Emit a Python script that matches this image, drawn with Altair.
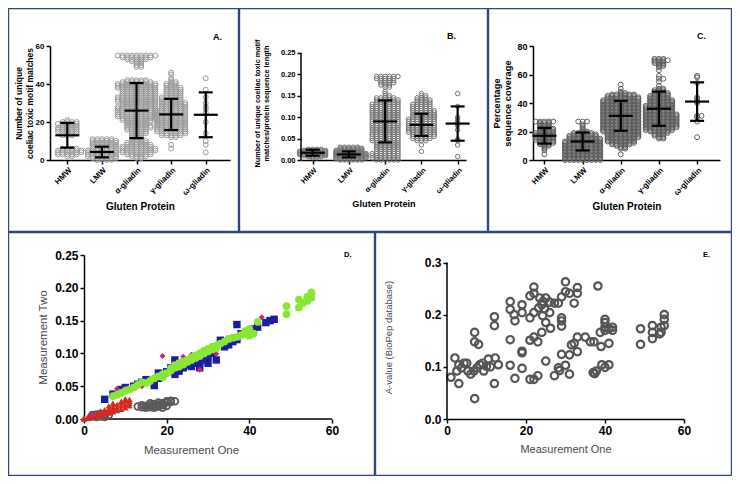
import json
import altair as alt
import pandas as pd

FONT = "Liberation Sans"
BORDER = "#2b4585"
CATS = ["HMW", "LMW", "α-gliadin", "γ-gliadin", "ω-gliadin"]

# ---------------- Panel A: unique coeliac toxic motif matches (value, count)
A_HMW_V = [2, 3, 4, 5, 6, 13, 14, 15, 16, 17, 18, 19, 20, 21]
A_HMW_N = [2, 5, 6, 6, 4, 3, 4, 5, 5, 5, 4, 5, 4, 1]
A_LMW_V = [0, 1, 2, 3, 4, 5, 6, 7, 8, 9, 10, 11]
A_LMW_N = [4, 6, 7, 7, 7, 7, 6, 6, 6, 6, 6, 5]
A_ALPHA_V = [1, 2, 3, 4, 5, 6, 7, 8, 9, 10, 11, 12, 13, 14, 15, 16, 17, 18, 19, 20,
             21, 22, 23, 24, 25, 26, 27, 28, 29, 30, 31, 32, 33, 34, 35, 36, 37, 38, 39, 40,
             41, 42, 49, 50, 51, 52, 53, 54, 55]
A_ALPHA_N = [2, 4, 6, 7, 8, 8, 7, 6, 5, 4, 3, 3, 3, 4, 4, 5, 6, 6, 5, 6,
             7, 8, 9, 9, 9, 9, 9, 9, 8, 8, 9, 9, 9, 8, 8, 8, 8, 9, 9, 9,
             7, 5, 2, 2, 2, 3, 5, 7, 9]
A_GAMMA_V = [6, 8, 12, 13, 14, 15, 16, 17, 18, 19, 20, 21, 22, 23, 24, 25, 26, 27, 28, 29,
             30, 31, 32, 33, 34, 35, 36, 37, 38, 39, 40, 41, 42, 43, 45, 46]
A_GAMMA_N = [1, 1, 2, 5, 6, 7, 7, 7, 7, 7, 7, 7, 7, 7, 7, 7, 7, 6, 6, 6,
             6, 5, 5, 5, 4, 4, 4, 4, 4, 3, 3, 2, 1, 1, 1, 1]
A_OMEGA_V = [4, 8, 10, 14, 20, 25, 27, 28, 30, 33, 37, 43]
A_OMEGA_N = [1, 1, 1, 1, 1, 1, 1, 1, 1, 1, 1, 1]
A_MEAN = [13, 4.2, 26, 24, 23.8]
A_SD = [6.5, 2.8, 14.5, 8.2, 11.8]

# ---------------- Panel B: matches / protein sequence length
B_HMW_V = [0.005, 0.0075, 0.01, 0.0125, 0.015, 0.0175, 0.02, 0.0225, 0.025]
B_HMW_N = [2, 4, 6, 7, 7, 7, 7, 6, 4]
B_LMW_V = [0, 0.0025, 0.005, 0.0075, 0.01, 0.0125, 0.015, 0.0175, 0.02, 0.0225, 0.025, 0.0275, 0.03]
B_LMW_N = [6, 7, 8, 8, 8, 8, 8, 7, 7, 7, 6, 6, 5]
B_ALPHA_V = [0, 0.005, 0.01, 0.015, 0.02, 0.025, 0.03, 0.035, 0.04, 0.045, 0.05, 0.055, 0.06,
             0.065, 0.07, 0.075, 0.08, 0.085, 0.09, 0.095, 0.1, 0.105, 0.11, 0.115, 0.12,
             0.125, 0.13, 0.135, 0.14, 0.145, 0.15, 0.155, 0.16, 0.17, 0.175, 0.18, 0.185,
             0.19, 0.195]
B_ALPHA_N = [6, 7, 7, 7, 6, 6, 6, 6, 6, 7, 7, 7, 7, 7, 7, 7, 7, 7, 7, 7, 7, 7, 7, 7, 7,
             7, 7, 6, 6, 5, 2, 1, 1, 2, 3, 4, 4, 5, 6]
B_GAMMA_V = [0.02, 0.035, 0.045, 0.05, 0.055, 0.06, 0.065, 0.07, 0.075, 0.08, 0.085, 0.09,
             0.095, 0.1, 0.105, 0.11, 0.115, 0.12, 0.125, 0.13, 0.135, 0.14, 0.145, 0.15, 0.155]
B_GAMMA_N = [1, 1, 3, 5, 6, 6, 7, 7, 7, 7, 7, 7, 7, 6, 6, 6, 6, 5, 5, 5, 4, 4, 3, 2, 1]
B_OMEGA_V = [0.008, 0.035, 0.045, 0.048, 0.07, 0.08, 0.085, 0.09, 0.095, 0.1, 0.125, 0.155]
B_OMEGA_N = [1, 1, 1, 1, 1, 1, 1, 1, 1, 1, 1, 1]
B_MEAN = [0.017, 0.013, 0.09, 0.082, 0.085]
B_SD = [0.007, 0.007, 0.049, 0.026, 0.04]

# ---------------- Panel C: percentage sequence coverage
C_HMW_V = [4, 7, 8, 9, 10, 11, 12, 13, 14, 15, 16, 17, 18, 19, 20, 21, 22, 23, 24, 25, 26, 27]
C_HMW_N = [1, 1, 1, 1, 2, 3, 4, 4, 5, 5, 5, 5, 5, 5, 4, 4, 4, 3, 3, 3, 3, 5]
C_LMW_V = [0, 1, 2, 3, 4, 5, 6, 7, 8, 9, 10, 11, 12, 13, 14, 15, 16, 17, 18, 19,
           20, 21, 22, 23, 24, 25, 27]
C_LMW_N = [9, 9, 9, 9, 9, 9, 9, 9, 9, 9, 9, 9, 9, 9, 8, 8, 7, 7, 6, 5,
           2, 1, 1, 1, 1, 1, 3]
C_ALPHA_V = [4, 8, 9, 10, 11, 12, 13, 14, 15, 16, 17, 18, 19, 20, 21, 22, 23, 24, 25, 26,
             27, 28, 29, 30, 31, 32, 33, 34, 35, 36, 37, 38, 39, 40, 41, 42, 43, 44, 45, 46,
             47, 48, 50, 53]
C_ALPHA_N = [1, 2, 2, 3, 5, 6, 7, 7, 7, 8, 8, 8, 8, 9, 9, 9, 9, 9, 9, 9,
             9, 9, 9, 9, 9, 9, 9, 9, 9, 9, 9, 9, 9, 9, 9, 9, 8, 8, 7, 6,
             2, 1, 1, 1]
C_GAMMA_V = [15, 16, 17, 18, 19, 20, 21, 22, 23, 24, 25, 26, 27, 28, 29, 30, 31, 32, 33, 34,
             35, 36, 37, 38, 39, 40, 41, 42, 43, 44, 45, 46, 47, 48, 49, 50, 52, 55, 57, 59,
             63, 65, 66, 67, 68, 69, 70, 71]
C_GAMMA_N = [2, 2, 3, 3, 4, 5, 7, 7, 8, 8, 8, 8, 8, 8, 8, 8, 8, 8, 7, 7,
             7, 7, 7, 7, 6, 6, 6, 6, 5, 5, 5, 4, 4, 3, 3, 2, 1, 1, 2, 1,
             1, 1, 2, 2, 3, 3, 4, 3]
C_OMEGA_V = [16, 27, 30, 31, 31, 40, 41, 43, 44, 54, 58, 59]
C_OMEGA_N = [1, 1, 1, 1, 1, 1, 1, 1, 1, 1, 1, 1]
C_MEAN = [17, 13, 31, 36, 41]
C_SD = [5.5, 6.3, 10.5, 12, 13.5]

# ---------------- Panel D: Measurement One vs Measurement Two
D_HMW_X = [2, 3, 3, 4, 4, 5, 5, 6, 2, 4, 5, 3, 13, 14, 15, 15, 16, 16, 17, 17, 18, 18, 18,
           19, 19, 20, 20, 20, 21, 21, 19, 17, 16, 14, 22]
D_HMW_Y = [0.004, 0.005, 0.007, 0.004, 0.006, 0.005, 0.007, 0.006, 0.006, 0.008, 0.003, 0.003,
           0.019, 0.018, 0.02, 0.017, 0.021, 0.018, 0.02, 0.023, 0.022, 0.019, 0.025, 0.021,
           0.024, 0.02, 0.025, 0.027, 0.026, 0.028, 0.017, 0.017, 0.024, 0.021, 0.027]
D_LMW_X = [0, 0, 1, 1, 1, 2, 2, 2, 3, 3, 3, 4, 4, 4, 5, 5, 5, 6, 6, 6, 6, 7, 7, 7, 7,
           8, 8, 8, 9, 9, 9, 9, 10, 10, 10, 10, 11, 11, 11, 11]
D_LMW_Y = [0, 0.002, 0.001, 0.003, 0.004, 0.003, 0.005, 0.007, 0.004, 0.007, 0.009, 0.006,
           0.009, 0.012, 0.008, 0.011, 0.014, 0.009, 0.012, 0.016, 0.02, 0.011, 0.015, 0.019,
           0.024, 0.013, 0.017, 0.022, 0.015, 0.02, 0.025, 0.027, 0.017, 0.022, 0.028, 0.031,
           0.02, 0.024, 0.027, 0.03]
D_GAMMA_X = [5, 7, 9, 10, 12, 13, 14, 15, 17, 18, 18, 19, 20, 21, 22, 22, 23, 24, 24, 25,
             26, 27, 28, 28, 29, 30, 30, 31, 32, 33, 34, 35, 36, 37, 37, 38, 40, 41, 42, 44,
             45, 46]
D_GAMMA_Y = [0.03, 0.038, 0.045, 0.048, 0.05, 0.053, 0.056, 0.06, 0.051, 0.07, 0.062, 0.066,
             0.072, 0.078, 0.09, 0.068, 0.073, 0.078, 0.08, 0.082, 0.08, 0.085, 0.088, 0.078,
             0.09, 0.085, 0.095, 0.1, 0.09, 0.12, 0.11, 0.113, 0.118, 0.144, 0.121, 0.13,
             0.132, 0.137, 0.14, 0.147, 0.15, 0.152]
D_OMEGA_X = [2, 8, 10, 14, 19, 24, 26, 28, 28, 32, 37, 43]
D_OMEGA_Y = [0.006, 0.046, 0.047, 0.05, 0.096, 0.095, 0.098, 0.075, 0.096, 0.099, 0.125, 0.155]
D_ALPHA_X = [7, 8, 9, 10, 11, 12, 13, 14, 15, 16, 17, 18, 19, 19, 20, 21, 21, 22, 22, 23,
             23, 24, 24, 25, 25, 26, 26, 27, 27, 28, 28, 29, 29, 30, 30, 31, 31, 32, 32, 33,
             34, 35, 36, 37, 38, 39, 39, 40, 40, 41, 42, 49, 49, 52, 52, 53, 54, 54, 55, 55, 55]
D_ALPHA_Y = [0.035, 0.037, 0.04, 0.043, 0.045, 0.048, 0.052, 0.056, 0.055, 0.058, 0.062, 0.065,
             0.068, 0.064, 0.07, 0.074, 0.077, 0.078, 0.082, 0.08, 0.085, 0.083, 0.088, 0.087,
             0.09, 0.09, 0.094, 0.093, 0.097, 0.096, 0.1, 0.1, 0.104, 0.103, 0.107, 0.106, 0.11,
             0.108, 0.112, 0.115, 0.118, 0.122, 0.124, 0.125, 0.128, 0.13, 0.134, 0.127, 0.137,
             0.13, 0.148, 0.16, 0.172, 0.17, 0.182, 0.177, 0.18, 0.186, 0.185, 0.19, 0.193]

# ---------------- Panel E: Measurement One vs A-value (BioPep database)
E_X = [1, 2, 2.5, 3, 3, 3.7, 4.3, 5, 5.3, 6, 6.8, 7, 7, 7, 8, 7.6, 8.3, 9, 9.3, 10,
       10.5, 11, 12, 12, 12, 12.2, 13, 16, 16, 16, 16, 17, 17.2, 17.2, 19, 19, 19, 19, 19, 21,
       21, 21, 21, 22, 22, 22, 22, 22, 23, 23, 23.2, 23.5, 24, 24, 24.3, 24.2, 24.7, 25, 25, 25,
       26, 26, 26.2, 27.2, 27.2, 28.2, 28.2, 28.5, 29, 29, 29, 29, 29, 30, 30, 30, 31, 31, 31, 31.5,
       32.2, 32.2, 33, 33, 33, 33, 35, 36.3, 37.2, 37, 37.4, 37.8, 38.2, 39, 38.8, 39.2, 40, 40, 40, 40,
       40, 41, 41, 41, 41.9, 41.9, 49, 49, 52, 52, 52, 53.8, 54.2, 55, 55, 55, 54.2]
E_Y = [0.08, 0.117, 0.092, 0.104, 0.068, 0.098, 0.107, 0.107, 0.092, 0.086,
       0.092, 0.039, 0.166, 0.148, 0.143, 0.098, 0.104, 0.107, 0.092, 0.101,
       0.115, 0.1, 0.196, 0.179, 0.068, 0.117, 0.104, 0.225, 0.21, 0.152,
       0.103, 0.2, 0.188, 0.078, 0.219, 0.204, 0.13, 0.127, 0.097, 0.194,
       0.236, 0.151, 0.076, 0.253, 0.241, 0.204, 0.157, 0.076, 0.083, 0.148,
       0.213, 0.232, 0.166, 0.219, 0.225, 0.198, 0.211, 0.232, 0.185, 0.111,
       0.224, 0.204, 0.174, 0.222, 0.083, 0.222, 0.098, 0.093, 0.234, 0.194,
       0.188, 0.178, 0.124, 0.263, 0.244, 0.103, 0.241, 0.123, 0.086, 0.142,
       0.222, 0.145, 0.252, 0.241, 0.157, 0.129, 0.157, 0.148, 0.148, 0.089,
       0.087, 0.092, 0.255, 0.139, 0.166, 0.104, 0.191, 0.185, 0.176, 0.17,
       0.099, 0.145, 0.104, 0.173, 0.176, 0.17, 0.173, 0.143, 0.179, 0.166,
       0.154, 0.163, 0.176, 0.2, 0.191, 0.179, 0.166]


def one_row():
    return pd.DataFrame({"k": [0]})


def frame(box):
    x0, x1, y0, y1 = box
    return alt.Chart(one_row()).mark_rect(fillOpacity=0, stroke=BORDER, strokeWidth=1.2).encode(
        x=alt.value(x0 + 0.6), x2=alt.value(x1 - 0.6), y=alt.value(y0 + 0.6), y2=alt.value(y1 - 0.6))


def letter(txt, xy, size):
    return alt.Chart(one_row()).mark_text(
        text=txt, fontWeight="bold", fontSize=size, align="left", baseline="middle", font=FONT
    ).encode(x=alt.value(xy[0]), y=alt.value(xy[1]))


def expand(vals, cnts):
    rows = []
    for i, (vs, ns) in enumerate(zip(vals, cnts)):
        for v, n in zip(vs, ns):
            rows.extend([{"i": i, "v": v}] * n)
    return pd.DataFrame(rows)


def dot_panel(vals, cnts, means, sds, W, H, xdom, ymax, yticks, yfmt, ytitle,
              ylab, ytit, ytpad, xlab, xtit, color, size, dx, box, lab, lab_xy, ytop=None):
    step = W / (xdom[1] - xdom[0])
    df = expand(vals, cnts)
    xs = alt.Scale(domain=xdom, nice=False, zero=False)
    ys = alt.Scale(domain=[0, ymax], nice=False, zero=False)
    xaxis = alt.Axis(values=[0, 1, 2, 3, 4],
                     labelExpr=json.dumps(CATS, ensure_ascii=False) + "[datum.value]",
                     labelAngle=-45, labelFontSize=xlab, labelFontWeight="bold",
                     title="Gluten Protein", titleFontSize=xtit, titleFontWeight="bold",
                     titlePadding=5, tickSize=4)
    yaxis = alt.Axis(values=yticks, format=yfmt, labelFontSize=ylab, labelFontWeight="bold",
                     title=ytitle, titleFontSize=ytit, titleFontWeight="bold",
                     titlePadding=ytpad, tickSize=4, domain=ytop is None)

    def X(f):
        return alt.X(f, scale=xs, axis=xaxis)

    def Y(f):
        return alt.Y(f, scale=ys, axis=yaxis)

    pts = alt.Chart(df).transform_window(
        r="row_number()", groupby=["i", "v"]
    ).transform_calculate(
        xo=f"datum.i + (datum.r % 2 == 0 ? 1 : -1) * floor(datum.r / 2) * {dx / step}"
    ).mark_point(shape="circle", filled=False, color=color, strokeWidth=1, size=size,
                 opacity=1).encode(x=X("xo:Q"), y=Y("v:Q"))

    eb = pd.DataFrame({"i": list(range(5)), "m": means, "s": sds})
    mw, cw = 12 / step, 7 / step
    base = alt.Chart(eb).transform_calculate(
        lo="datum.m - datum.s", hi="datum.m + datum.s",
        a=f"datum.i - {mw}", b=f"datum.i + {mw}", c=f"datum.i - {cw}", d=f"datum.i + {cw}")
    rule = dict(color="black", strokeWidth=2.2)
    vert = base.mark_rule(**rule).encode(x=X("i:Q"), y=Y("lo:Q"), y2="hi:Q")
    meanl = base.mark_rule(**rule).encode(x=X("a:Q"), x2="b:Q", y=Y("m:Q"))
    caplo = base.mark_rule(**rule).encode(x=X("c:Q"), x2="d:Q", y=Y("lo:Q"))
    caphi = base.mark_rule(**rule).encode(x=X("c:Q"), x2="d:Q", y=Y("hi:Q"))
    layers = [frame(box), pts, vert, meanl, caplo, caphi]
    if ytop is not None:
        dl = pd.DataFrame({"lo": [0], "hi": [ytop]})
        layers.append(alt.Chart(dl).mark_rule(color="black", strokeWidth=1.5).encode(
            x=alt.value(0), y=Y("lo:Q"), y2="hi:Q"))
    layers.append(letter(lab, lab_xy, 9))
    return alt.layer(*layers).properties(width=W, height=H)


# ---------------- top row (plot origins at page x 50, 299, 533; y 46)
H1 = 114
pA = dot_panel([A_HMW_V, A_LMW_V, A_ALPHA_V, A_GAMMA_V, A_OMEGA_V],
               [A_HMW_N, A_LMW_N, A_ALPHA_N, A_GAMMA_N, A_OMEGA_N], A_MEAN, A_SD,
               180, H1, [-0.5, 4.7], 60, [0, 20, 40, 60], "d",
               ["Number of unique", "coeliac toxic motif matches"],
               8, 8.5, 1, 8, 10, "#9a9a9a", 24, 4.7, (-42, 189, -38, 186), "A.", (163, -9))
pB = dot_panel([B_HMW_V, B_LMW_V, B_ALPHA_V, B_GAMMA_V, B_OMEGA_V],
               [B_HMW_N, B_LMW_N, B_ALPHA_N, B_GAMMA_N, B_OMEGA_N], B_MEAN, B_SD,
               165, H1, [-0.32, 4.23], 0.266, [0, 0.05, 0.1, 0.15, 0.2, 0.25], ".2f",
               ["Number of unique coeliac toxic motif", "matches/protein sequence length"],
               7.5, 7.3, 10, 7.5, 9.2, "#747474", 20, 4.3, (-62, 187, -38, 186), "B.", (146, -10),
               ytop=0.25)
pC = dot_panel([C_HMW_V, C_LMW_V, C_ALPHA_V, C_GAMMA_V, C_OMEGA_V],
               [C_HMW_N, C_LMW_N, C_ALPHA_N, C_GAMMA_N, C_OMEGA_N], C_MEAN, C_SD,
               187, H1, [-0.3, 4.6], 80, [0, 20, 40, 60, 80], "d",
               ["Percentage", "sequence coverage"],
               9, 9.3, 4, 8, 10, "#5e5e5e", 24, 4.4, (-45, 199, -38, 186), "C.", (164, -10))

# ---------------- bottom row
# D's plot group starts at page x 50 (aligned with A); its data origin sits 34 px further right.
H2 = 164
D_SHIFT = 34
D_XMIN = -D_SHIFT * 60 / 248


def xy_axis(ticks, fmt, title, tsize, tpad, domain=True, offset=0):
    return alt.Axis(values=ticks, format=fmt, labelFontSize=12, labelFontWeight="bold",
                    title=title, titleFontSize=tsize, titleFontWeight="normal",
                    titleColor="#4a4a4a", titlePadding=tpad, tickSize=4, domain=domain,
                    offset=offset)


dxs = alt.Scale(domain=[D_XMIN, 60], nice=False, zero=False)
dys = alt.Scale(domain=[0, 0.25], nice=False, zero=False)
dxa = xy_axis([0, 20, 40, 60], "d", "Measurement One", 11.5, 8, domain=False)
dya = xy_axis([0, 0.05, 0.1, 0.15, 0.2, 0.25], ".2f", "Measurement Two", 11.5, 6,
              offset=-D_SHIFT)


def dscatter(xv, yv, **mk):
    df = pd.DataFrame({"x": xv, "y": yv})
    return alt.Chart(df).mark_point(opacity=1, **mk).encode(
        x=alt.X("x:Q", scale=dxs, axis=dxa), y=alt.Y("y:Q", scale=dys, axis=dya))


dxl = pd.DataFrame({"lo": [0], "hi": [60]})
pD = alt.layer(
    frame((-42, 325, -23, 221)),
    alt.Chart(dxl).mark_rule(color="black", strokeWidth=1.5).encode(
        x=alt.X("lo:Q", scale=dxs, axis=dxa), x2="hi:Q", y=alt.value(H2)),
    dscatter(D_HMW_X, D_HMW_Y, shape="circle", filled=False, color="#5a5a5a", strokeWidth=1.8, size=45),
    dscatter(D_LMW_X, D_LMW_Y, shape="triangle-up", filled=True, color="#d42a1e", size=40),
    dscatter(D_GAMMA_X, D_GAMMA_Y, shape="square", filled=True, color="#1c1ca0", size=55),
    dscatter(D_OMEGA_X, D_OMEGA_Y, shape="diamond", filled=True, color="#c8237a", size=36),
    dscatter(D_ALPHA_X, D_ALPHA_Y, shape="circle", filled=True, color="#8ae634", size=60),
    letter("D.", (294, 0), 7.5),
).properties(width=282, height=H2)

exs = alt.Scale(domain=[0, 60], nice=False, zero=False)
eys = alt.Scale(domain=[0, 0.3144], nice=False, zero=False)
exa = xy_axis([0, 20, 40, 60], "d", "Measurement One", 11, 7)
eya = xy_axis([0, 0.1, 0.2, 0.3], ".1f", "A-value (BioPep database)", 9.5, 31, domain=False)
edf = pd.DataFrame({"x": E_X, "y": E_Y})
edl = pd.DataFrame({"lo": [0], "hi": [0.3]})
pE = alt.layer(
    frame((-72, 285, -23, 221)),
    alt.Chart(edf).mark_point(shape="circle", filled=False, color="#555555", strokeWidth=2.2,
                              size=55, opacity=1).encode(
        x=alt.X("x:Q", scale=exs, axis=exa), y=alt.Y("y:Q", scale=eys, axis=eya)),
    alt.Chart(edl).mark_rule(color="black", strokeWidth=1.5).encode(
        x=alt.value(0), y=alt.Y("lo:Q", scale=eys, axis=eya), y2="hi:Q"),
    letter("E.", (256, 0), 7.5),
).properties(width=237, height=H2)

row1 = alt.hconcat(pA, pB, pC, spacing=0)
row2 = alt.hconcat(pD, pE, spacing=0)
chart = alt.vconcat(row1, row2, spacing=0).properties(padding=0).configure_view(
    strokeWidth=0
).configure_axis(
    labelFont=FONT, titleFont=FONT, domainColor="black", tickColor="black", labelColor="black",
    grid=False, labelFlush=False, labelOverlap=False, tickWidth=1.5, domainWidth=1.5, labelPadding=2
).configure_text(font=FONT)

chart.save("out.html", embed_options={"renderer": "svg", "actions": False})
